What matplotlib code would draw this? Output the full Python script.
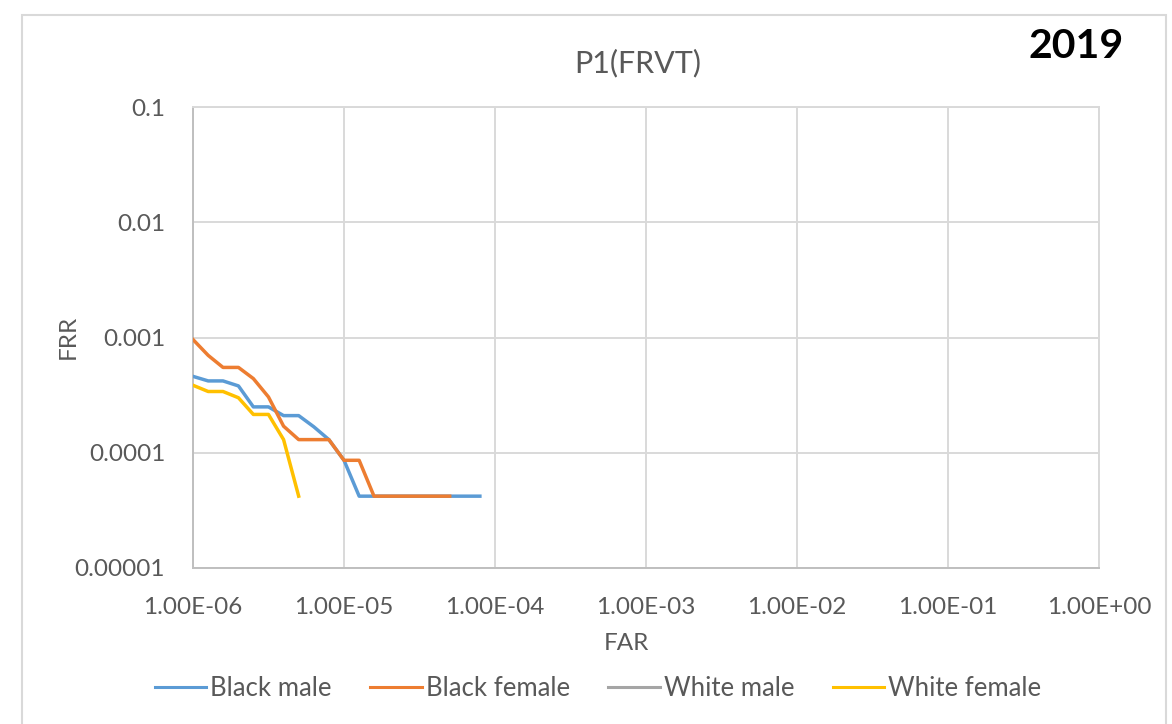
import matplotlib
matplotlib.use("Agg")
import matplotlib.pyplot as plt
from matplotlib.patches import Rectangle
from matplotlib.ticker import FixedLocator, FixedFormatter, NullLocator

plt.rcParams['font.family'] = ['Lato', 'DejaVu Sans']

# ---- data ----
far = [1.00e-6, 1.26e-6, 1.58e-6, 2.00e-6, 2.51e-6, 3.16e-6, 3.98e-6, 5.01e-6,
       6.31e-6, 7.94e-6, 1.00e-5, 1.26e-5, 1.58e-5, 2.00e-5, 2.51e-5, 3.16e-5,
       3.98e-5, 5.01e-5, 6.31e-5, 7.94e-5]

black_male = [4.6e-4, 4.2e-4, 4.2e-4, 3.8e-4, 2.5e-4, 2.5e-4, 2.1e-4, 2.1e-4,
              1.68e-4, 1.3e-4, 8.6e-5, 4.2e-5, 4.2e-5, 4.2e-5, 4.2e-5, 4.2e-5,
              4.2e-5, 4.2e-5, 4.2e-5, 4.2e-5]
black_female = [9.6e-4, 7.0e-4, 5.5e-4, 5.5e-4, 4.4e-4, 3.05e-4, 1.7e-4, 1.3e-4,
                1.3e-4, 1.3e-4, 8.6e-5, 8.6e-5, 4.2e-5, 4.2e-5, 4.2e-5, 4.2e-5,
                4.2e-5, 4.2e-5]
white_male = []
white_female = [3.85e-4, 3.4e-4, 3.4e-4, 3.0e-4, 2.15e-4, 2.15e-4, 1.3e-4, 4.2e-5]

series_names = ["Black male", "Black female", "White male", "White female"]
series_values = [black_male, black_female, white_male, white_female]
series_colors = ["#5B9BD5", "#ED7D31", "#A5A5A5", "#FFC000"]

x_ticks = [1e-6, 1e-5, 1e-4, 1e-3, 1e-2, 1e-1, 1e0]
x_tick_labels = ["1.00E-06", "1.00E-05", "1.00E-04", "1.00E-03", "1.00E-02", "1.00E-01", "1.00E+00"]
y_ticks = [1e-5, 1e-4, 1e-3, 1e-2, 1e-1]
y_tick_labels = ["0.00001", "0.0001", "0.001", "0.01", "0.1"]

title = "P1(FRVT)"
year_label = "2019"

# ---- figure ----
W, H = 1172, 724
fig = plt.figure(figsize=(W / 100, H / 100), dpi=100)
fig.patch.set_facecolor("white")

# outer chart frame
fig.patches.append(Rectangle((22 / W, -0.05), (1166 - 22) / W, 1 - 15 / H + 0.05,
                             transform=fig.transFigure, fill=False,
                             edgecolor="#d9d9d9", linewidth=1.5))

ax = fig.add_axes([193 / W, 1 - 568 / H, (1099 - 193) / W, (568 - 107) / H])
ax.set_xscale("log")
ax.set_yscale("log")
ax.set_xlim(1e-6, 1e0)
ax.set_ylim(1e-5, 1e-1)

text_color = "#595959"
grid_color = "#d9d9d9"
tick_fs = 17.5

for name, vals, col in zip(series_names, series_values, series_colors):
    ax.plot(far[:len(vals)], vals, color=col, linewidth=2.5, label=name,
            solid_joinstyle="round", zorder=3)

ax.xaxis.set_major_locator(FixedLocator(x_ticks))
ax.xaxis.set_major_formatter(FixedFormatter(x_tick_labels))
ax.xaxis.set_minor_locator(NullLocator())
ax.yaxis.set_major_locator(FixedLocator(y_ticks))
ax.yaxis.set_major_formatter(FixedFormatter(y_tick_labels))
ax.yaxis.set_minor_locator(NullLocator())

ax.grid(True, which="major", color=grid_color, linewidth=1.4, zorder=0)
ax.set_axisbelow(True)
for side in ["top", "right"]:
    ax.spines[side].set_color(grid_color)
    ax.spines[side].set_linewidth(1.4)
for side in ["left", "bottom"]:
    ax.spines[side].set_color("#bfbfbf")
    ax.spines[side].set_linewidth(1.4)

ax.tick_params(axis="x", length=0, pad=21, labelsize=tick_fs, labelcolor=text_color)
ax.tick_params(axis="y", length=0, pad=20, labelsize=tick_fs, labelcolor=text_color)

fig.text(626 / W, 1 - 643 / H, "FAR", ha="center", va="center", fontsize=tick_fs, color=text_color)
fig.text(68 / W, 1 - 337 / H, "FRR", ha="center", va="center", rotation=90,
         fontsize=tick_fs, color=text_color)
fig.text(638 / W, 1 - 63 / H, title, ha="center", va="center", fontsize=22, color=text_color)
fig.text(1076 / W, 1 - 46 / H, year_label, ha="center", va="center", fontsize=29.5,
         fontweight="bold", color="black")

handles, labels = ax.get_legend_handles_labels()
leg = fig.legend(handles, labels, loc="center", bbox_to_anchor=(598 / W, 1 - 688 / H),
                 ncol=4, frameon=False, fontsize=18.5, labelcolor=text_color,
                 handlelength=2.0, handletextpad=0.15, columnspacing=1.5)
for line in leg.get_lines():
    line.set_linewidth(2.2)

fig.savefig("out.png", dpi=100)
